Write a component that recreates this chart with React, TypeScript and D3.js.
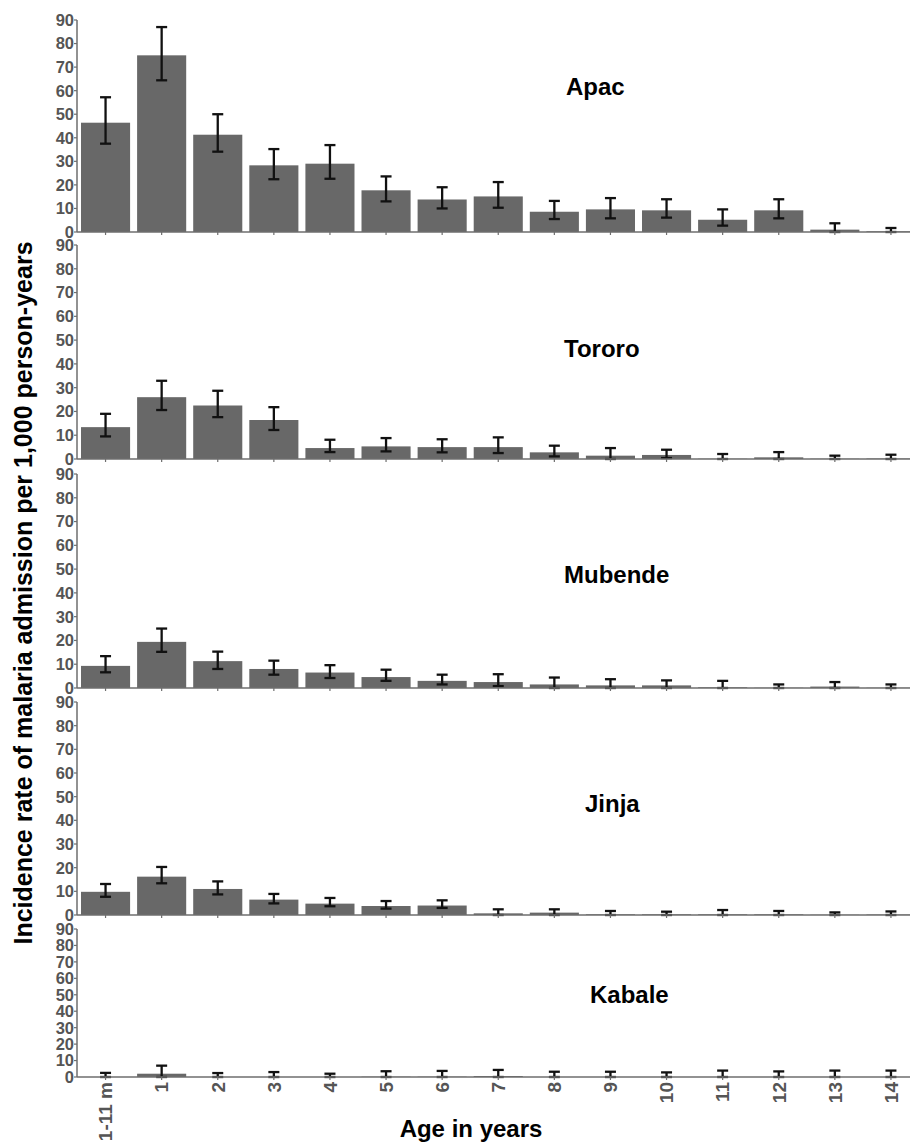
import * as d3 from "d3";

// age groups on the x axis
const ages = ["1-11 m", "1", "2", "3", "4", "5", "6", "7", "8", "9", "10", "11", "12", "13", "14"];
const districts = ["Apac", "Tororo", "Mubende", "Jinja", "Kabale"];
const yTicks = [0, 10, 20, 30, 40, 50, 60, 70, 80, 90];

// incidence per 1,000 person-years, with lower / upper 95% CI
const apacRate = [46.4, 75.0, 41.3, 28.3, 29.0, 17.7, 13.8, 15.1, 8.6, 9.6, 9.2, 5.2, 9.2, 1.0, 0.3];
const apacLow = [37.5, 64.4, 34.1, 22.4, 22.6, 13.0, 10.0, 10.3, 5.5, 5.8, 6.1, 2.7, 5.8, 0, 0];
const apacHigh = [57.2, 87.0, 50.0, 35.2, 36.9, 23.6, 19.0, 21.2, 13.2, 14.4, 13.9, 9.6, 13.9, 3.7, 1.7];

const tororoRate = [13.4, 26.0, 22.5, 16.4, 4.6, 5.3, 5.0, 5.0, 2.8, 1.4, 1.7, 0.1, 0.7, 0.1, 0.2];
const tororoLow = [9.5, 20.6, 17.6, 12.2, 2.9, 3.2, 2.8, 2.5, 1.1, 0, 0.4, 0, 0, 0, 0];
const tororoHigh = [19.0, 32.9, 28.7, 21.8, 8.1, 8.8, 8.3, 9.1, 5.6, 4.6, 3.9, 2.1, 2.9, 1.4, 1.8];

const mubendeRate = [9.3, 19.4, 11.3, 8.0, 6.5, 4.6, 3.0, 2.5, 1.5, 1.1, 1.1, 0.3, 0.1, 0.6, 0.1];
const mubendeLow = [6.6, 15.2, 8.0, 5.6, 4.2, 3.0, 1.5, 0.8, 0, 0, 0, 0, 0, 0, 0];
const mubendeHigh = [13.4, 25.0, 15.3, 11.5, 9.6, 7.7, 5.6, 5.8, 4.4, 3.7, 3.2, 3.0, 1.5, 2.5, 1.5];

const jinjaRate = [9.8, 16.2, 11.0, 6.5, 4.8, 3.8, 4.0, 0.7, 1.0, 0.3, 0.3, 0.3, 0.3, 0.1, 0.2];
const jinjaLow = [7.7, 13.4, 8.7, 4.9, 3.7, 2.7, 3.0, 0, 0, 0, 0, 0, 0, 0, 0];
const jinjaHigh = [13.1, 20.3, 14.2, 8.9, 7.2, 5.9, 6.2, 2.4, 2.4, 1.7, 1.4, 2.1, 1.7, 1.1, 1.5];

const kabaleRate = [0, 2.0, 0, 0, 0, 0.2, 0.2, 0.6, 0, 0, 0, 0, 0, 0, 0];
const kabaleLow = [0, 0, 0, 0, 0, 0, 0, 0, 0, 0, 0, 0, 0, 0, 0];
const kabaleHigh = [2.5, 6.9, 2.4, 3.0, 2.0, 3.5, 3.7, 4.3, 3.2, 3.2, 2.8, 3.9, 3.4, 3.9, 3.9];

const rates = [apacRate, tororoRate, mubendeRate, jinjaRate, kabaleRate];
const lows = [apacLow, tororoLow, mubendeLow, jinjaLow, kabaleLow];
const highs = [apacHigh, tororoHigh, mubendeHigh, jinjaHigh, kabaleHigh];

// layout
const W = 910;
const H = 1145;
const axisX = 77;
const panelTop = [20, 245, 474, 702, 929];
const panelBottom = [232, 459, 688, 915, 1077];
const labelX = [566, 564, 564, 585, 590];
const labelY = [95, 357, 583, 812, 1003];

const FONT = "'Liberation Sans', Arial, Helvetica, sans-serif";
const BAR = "#686868";
const AXIS = "#6e6e6e";
const TICK_TEXT = "#555555";

const x = d3
  .scaleBand<string>()
  .domain(ages)
  .range([77.5, 919])
  .paddingInner(0.125)
  .paddingOuter(0.0625);

function Panel({ i }: { i: number }) {
  const y = d3.scaleLinear().domain([0, 90]).range([panelBottom[i], panelTop[i]]);
  const bw = x.bandwidth();
  const cap = 5.5;
  const isLast = i === districts.length - 1;
  return (
    <g>
      {ages.map((a, j) => (
        <rect
          key={"b" + a}
          x={x(a)}
          y={y(rates[i][j])}
          width={bw}
          height={y(0) - y(rates[i][j])}
          fill={BAR}
        />
      ))}
      {ages.map((a, j) => {
        const cx = (x(a) as number) + bw / 2;
        return (
          <g key={"e" + a} stroke="#111" strokeWidth={2.3}>
            <line x1={cx} x2={cx} y1={y(lows[i][j])} y2={y(highs[i][j])} />
            <line x1={cx - cap} x2={cx + cap} y1={y(highs[i][j])} y2={y(highs[i][j])} />
            <line x1={cx - cap} x2={cx + cap} y1={y(lows[i][j])} y2={y(lows[i][j])} />
          </g>
        );
      })}
      {/* y axis */}
      <line x1={axisX} x2={axisX} y1={y(90)} y2={y(0)} stroke={AXIS} strokeWidth={1.5} />
      {yTicks.map((t) => (
        <g key={"t" + t}>
          <line x1={axisX - 3} x2={axisX} y1={y(t)} y2={y(t)} stroke={AXIS} strokeWidth={1.2} />
          <text
            x={axisX - 3}
            y={y(t)}
            dy="0.36em"
            textAnchor="end"
            fontSize={16.5}
            fontWeight="bold"
            fill={TICK_TEXT}
            fontFamily={FONT}
          >
            {t}
          </text>
        </g>
      ))}
      {/* x axis */}
      <line x1={axisX} x2={W} y1={y(0)} y2={y(0)} stroke={AXIS} strokeWidth={1.5} />
      {ages.map((a) => {
        const cx = (x(a) as number) + bw / 2;
        return <line key={"xt" + a} x1={cx} x2={cx} y1={y(0)} y2={y(0) + 3} stroke={AXIS} strokeWidth={1.2} />;
      })}
      {isLast &&
        ages.map((a) => {
          const cx = (x(a) as number) + bw / 2;
          return (
            <text
              key={"xl" + a}
              transform={`translate(${cx},${y(0) + 5}) rotate(-90)`}
              dy="0.36em"
              textAnchor="end"
              fontSize={19}
              fontWeight="bold"
              fill={TICK_TEXT}
              fontFamily={FONT}
            >
              {a}
            </text>
          );
        })}
      <text x={labelX[i]} y={labelY[i]} fontSize={24} fontWeight="bold" fill="#000" fontFamily={FONT}>
        {districts[i]}
      </text>
    </g>
  );
}

export default function App() {
  return (
    <svg
      width={W}
      height={H}
      viewBox={`0 0 ${W} ${H}`}
      style={{ position: "absolute", left: 0, top: 0, background: "#fff" }}
    >
      {districts.map((d, i) => (
        <Panel key={d} i={i} />
      ))}
      <text
        transform="translate(32,593) rotate(-90)"
        textAnchor="middle"
        fontSize={25}
        fontWeight="bold"
        fill="#000"
        fontFamily={FONT}
      >
        Incidence rate of malaria admission per 1,000 person-years
      </text>
      <text x={471} y={1137} textAnchor="middle" fontSize={24} fontWeight="bold" fill="#000" fontFamily={FONT}>
        Age in years
      </text>
    </svg>
  );
}
